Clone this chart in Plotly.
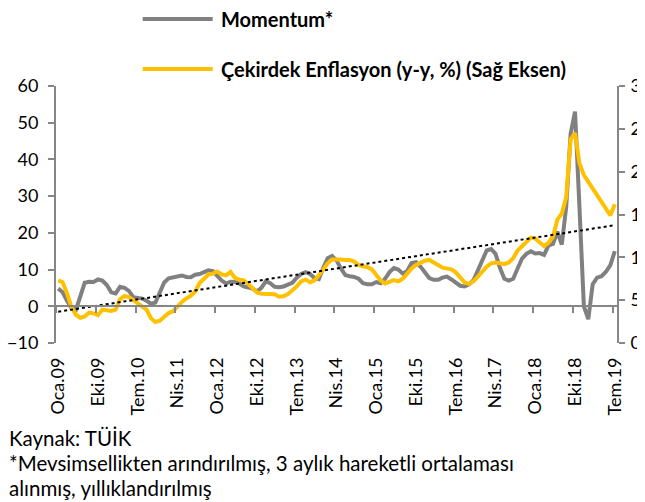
import pandas as pd
import plotly.graph_objects as go

# Turkce ay kisaltmalari ve aylik donemler (Oca.09 - Tem.19)
aylar = ["Oca", "Şub", "Mar", "Nis", "May", "Haz", "Tem", "Ağu", "Eyl", "Eki", "Kas", "Ara"]
tarihler = pd.date_range("2009-01-01", "2019-07-01", freq="MS")
donemler = [f"{aylar[t.month - 1]}.{t.year % 100:02d}" for t in tarihler]

# Momentum* (sol eksen)
momentum = [
    4.8, 3.8, 1.5, -0.5, -1.0, 3.0, 6.4, 6.7, 6.6, 7.3, 7.0, 5.8,
    3.8, 3.5, 5.3, 5.0, 4.2, 2.5, 2.4, 2.1, 1.5, 0.7, 1.0, 3.5,
    6.5, 7.6, 7.9, 8.3, 8.4, 8.0, 7.9, 8.6, 8.8, 9.3, 9.8, 9.6,
    8.4, 7.0, 6.2, 6.7, 6.6, 6.2, 5.4, 5.2, 4.8, 4.1, 5.0, 6.8,
    6.3, 5.3, 5.2, 5.4, 5.8, 6.4, 7.8, 8.8, 9.3, 8.8, 7.7, 7.4,
    10.5, 13.1, 13.7, 12.5, 10.3, 8.5, 8.2, 8.0, 7.5, 6.3, 6.0, 6.0,
    6.6, 6.3, 7.5, 9.3, 10.4, 10.0, 8.9, 9.6, 11.8, 12.0, 10.8, 9.3,
    7.7, 7.2, 7.2, 7.8, 8.1, 7.3, 6.3, 5.6, 5.4, 6.0, 7.1, 9.6,
    12.4, 15.2, 15.6, 14.3, 10.5, 7.5, 7.0, 7.5, 10.3, 13.0, 14.3, 15.0,
    14.4, 14.5, 14.0, 16.6, 17.0, 20.3, 16.8, 27.0, 47.0, 53.0, 27.0, 0.0,
    -3.5, 6.0, 7.8, 8.2, 9.4, 11.2, 15.0,
]

# Cekirdek enflasyon, yillik % (sag eksen)
cekirdek = [
    7.3, 7.1, 5.8, 4.2, 3.3, 2.95, 3.1, 3.55, 3.45, 3.25, 3.9, 3.8,
    3.75, 3.9, 5.1, 5.5, 5.35, 5.0, 4.6, 4.3, 3.9, 2.9, 2.45, 2.6,
    3.0, 3.5, 3.7, 4.3, 4.8, 5.2, 5.5, 6.0, 7.0, 7.5, 8.0, 8.1,
    8.35, 8.0, 7.9, 8.3, 7.6, 7.4, 7.3, 6.9, 6.4, 5.9, 5.75, 5.75,
    5.75, 5.7, 5.4, 5.45, 5.7, 6.1, 6.6, 7.2, 7.4, 7.1, 7.3, 7.9,
    8.7, 9.3, 9.75, 9.8, 9.75, 9.7, 9.7, 9.5, 9.1, 8.95, 8.85, 8.6,
    7.9, 7.3, 6.95, 7.2, 7.35, 7.2, 7.5, 8.1, 8.7, 9.1, 9.4, 9.6,
    9.7, 9.45, 9.1, 8.8, 8.64, 8.6, 8.25, 7.7, 7.07, 6.9, 7.2, 7.74,
    8.4, 8.9, 9.3, 9.4, 9.3, 9.2, 9.4, 9.9, 10.8, 11.3, 11.95, 12.3,
    12.2, 11.8, 11.3, 11.7, 12.4, 14.4, 15.1, 17.0, 23.8, 24.5, 21.0, 19.6,
    18.8, 18.0, 17.1, 16.3, 15.7, 14.9, 16.2,
]

# dogrusal trend cizgisinin uc degerleri (sag eksen)
trend_donem = [donemler[0], donemler[-1]]
trend_deger = [3.65, 13.75]

seri_adlari = ["Momentum*", "Çekirdek Enflasyon (y-y, %) (Sağ Eksen)"]

gri = "#808080"
sari = "#FFC000"
eksen_renk = "#868686"
yazi = "Lato"

fig = go.Figure()
fig.add_trace(go.Scatter(x=donemler, y=momentum, name=seri_adlari[0], mode="lines",
                         line=dict(color=gri, width=4), showlegend=False))
fig.add_trace(go.Scatter(x=donemler, y=cekirdek, name=seri_adlari[1], mode="lines",
                         line=dict(color=sari, width=4), yaxis="y2", showlegend=False))
fig.add_trace(go.Scatter(x=trend_donem, y=trend_deger, mode="lines", showlegend=False,
                         line=dict(color="black", width=2, dash="dot"), xaxis="x2", yaxis="y2"))

eksen_ortak = dict(showgrid=False, zeroline=False, showline=True, linecolor=eksen_renk, linewidth=2,
                   ticks="outside", ticklen=6, tickwidth=2, tickcolor=eksen_renk, automargin=False,
                   tickfont=dict(size=18))

fig.update_layout(
    width=645, height=502,
    margin=dict(l=48, r=36, t=78, b=167, autoexpand=False),
    plot_bgcolor="white", paper_bgcolor="white",
    font=dict(family=yazi, size=18, color="black"),
    xaxis=dict(type="category", categoryorder="array", categoryarray=donemler, range=[-0.5, 126.5],
               tickmode="linear", tick0=0, dtick=9, tickangle=-90, showline=False, ticks="",
               showgrid=False, zeroline=False, automargin=False, ticklabelstandoff=10,
               tickfont=dict(size=18)),
    # x ekseni cizgisi sifir seviyesinde
    xaxis2=dict(type="category", categoryorder="array", categoryarray=donemler, overlaying="x",
                anchor="free", position=1 / 7, range=[-0.5, 126.5], tickmode="linear", tick0=0,
                dtick=9, tickson="boundaries", showticklabels=False, **eksen_ortak),
    yaxis=dict(range=[-10, 60], dtick=10, ticklabelstandoff=6, **eksen_ortak),
    yaxis2=dict(range=[0, 30], dtick=5, overlaying="y", side="right", ticklabelstandoff=2,
                **eksen_ortak),
)

# lejant (grafik alaninin ustunde)
lejant_y = [1.261, 1.066]
for ad, renk, yy in zip(seri_adlari, [gri, sari], lejant_y):
    fig.add_shape(type="line", xref="paper", yref="paper", x0=0.1545, x1=0.2793, y0=yy, y1=yy,
                  line=dict(color=renk, width=4))
    fig.add_annotation(text=ad, xref="paper", yref="paper", x=0.2911, y=yy, xanchor="left",
                       yanchor="middle", showarrow=False,
                       font=dict(family=yazi, size=20, color="black", weight="bold"))

notlar = ["Kaynak: TÜİK",
          "*Mevsimsellikten arındırılmış, 3 aylık hareketli ortalaması",
          "alınmış, yıllıklandırılmış"]
for k, metin in enumerate(notlar):
    fig.add_annotation(text=metin, xref="paper", yref="paper", x=-0.0873, y=-0.37 - 0.0972 * k,
                       xanchor="left", yanchor="middle", showarrow=False,
                       font=dict(family=yazi, size=20.5, color="black"))

fig.write_html("out.html")
